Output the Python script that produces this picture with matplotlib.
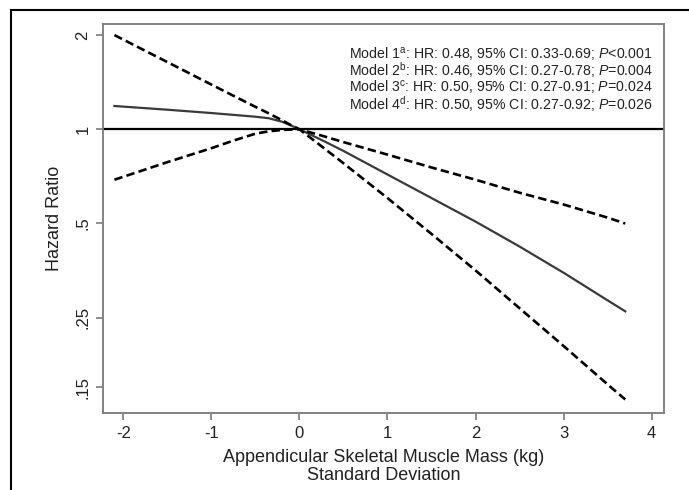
import numpy as np
import matplotlib
matplotlib.use("Agg")
from matplotlib import pyplot as plt
from matplotlib.lines import Line2D

# Values (hazard ratio vs SD of ASM)
x = [-2.1, -1.5, -1.0, -0.75, -0.5, -0.35, -0.2, -0.1, 0.0, 0.25, 0.5, 1.0, 1.5, 2.0, 2.5, 3.0, 3.5, 3.7]
hr = [1.187, 1.155, 1.127, 1.112, 1.097, 1.085, 1.058, 1.03, 1.0, 0.925, 0.853, 0.717, 0.603, 0.507, 0.422, 0.348, 0.284, 0.262]
ci_upper = [2.0, 1.64, 1.39, 1.28, 1.18, 1.125, 1.07, 1.033, 1.0, 0.955, 0.91, 0.83, 0.755, 0.69, 0.627, 0.575, 0.522, 0.50]
ci_lower = [0.69, 0.785, 0.87, 0.92, 0.968, 0.985, 0.995, 0.998, 1.0, 0.883, 0.779, 0.603, 0.463, 0.354, 0.268, 0.203, 0.153, 0.137]

yticks = [2, 1, 0.5, 0.25, 0.15]
ytick_labels = ["2", "1", ".5", ".25", ".15"]
xticks = [-2, -1, 0, 1, 2, 3, 4]

legend_lines = [
    r"Model 1$^{\mathrm{a}}$: HR: 0.48, 95% CI: 0.33-0.69; $\mathit{P}$<0.001",
    r"Model 2$^{\mathrm{b}}$: HR: 0.46, 95% CI: 0.27-0.78; $\mathit{P}$=0.004",
    r"Model 3$^{\mathrm{c}}$: HR: 0.50, 95% CI: 0.27-0.91; $\mathit{P}$=0.024",
    r"Model 4$^{\mathrm{d}}$: HR: 0.50, 95% CI: 0.27-0.92; $\mathit{P}$=0.026",
]

plt.rcParams['font.family'] = ['Liberation Sans', 'DejaVu Sans']
plt.rcParams['mathtext.fontset'] = 'custom'
plt.rcParams['mathtext.rm'] = 'Liberation Sans'
plt.rcParams['mathtext.it'] = 'Liberation Sans:italic'
plt.rcParams['axes.unicode_minus'] = False

fig = plt.figure(figsize=(6.89, 4.90), dpi=100)
ax = fig.add_axes([103/689, 1 - 413/490, (664 - 103)/689, (413 - 24)/490])

ax.set_yscale('log')
ax.axhline(1, color='black', lw=1.6, zorder=2)
ax.plot(x, hr, color='#3a3a3a', lw=1.6, zorder=3)
dash = (0, (3.2, 1.6))
ax.plot(x, ci_upper, color='black', lw=1.9, linestyle=dash, zorder=3)
ax.plot(x, ci_lower, color='black', lw=1.9, linestyle=dash, zorder=3)

ax.set_xlim(-2.23, 4.14)
ax.set_ylim(0.124, 2.17)
ax.set_yticks(yticks)
ax.set_yticklabels(ytick_labels, rotation=90, va='center')
ax.yaxis.set_minor_locator(matplotlib.ticker.NullLocator())
ax.set_xticks(xticks)

for s in ax.spines.values():
    s.set_color('#7a7a7a')
    s.set_linewidth(1.3)
ax.tick_params(axis='both', colors='#7a7a7a', length=5, width=1.2, labelsize=12,
               labelcolor='#222222', pad=4)

ax.set_ylabel("Hazard Ratio", fontsize=13, color='#222222', labelpad=9)
ax.set_xlabel("Appendicular Skeletal Muscle Mass (kg)\nStandard Deviation",
              fontsize=13, color='#222222', labelpad=6, linespacing=1.1)

# model summary block, one text so the lines share a single box
ax.text(0.980, 0.946, "\n".join(legend_lines), transform=ax.transAxes, ha='right',
        va='top', fontsize=10.2, color='#222222', linespacing=0.84)

# outer frame of the figure panel
fig.add_artist(Line2D([11/689, 11/689], [0, 1 - 10/490], color='black', lw=1.5))
fig.add_artist(Line2D([11/689, 1], [1 - 10/490, 1 - 10/490], color='black', lw=1.5))

fig.savefig("out.png", dpi=100)
